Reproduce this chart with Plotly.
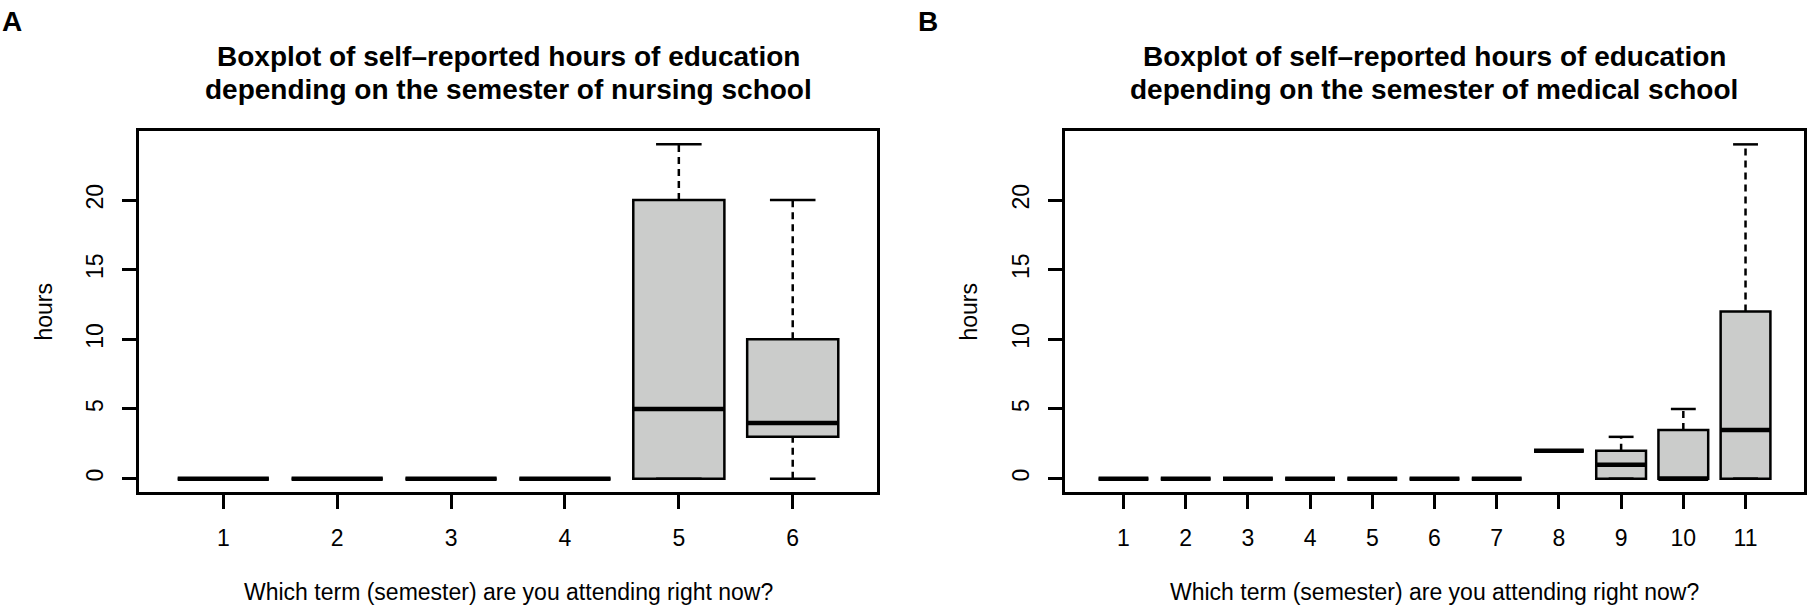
import plotly.graph_objects as go

# box statistics (min, q1, median, q3, max)
nursing_terms = [1, 2, 3, 4, 5, 6]
nursing_min = [0, 0, 0, 0, 0, 0]
nursing_q1 = [0, 0, 0, 0, 0, 3]
nursing_median = [0, 0, 0, 0, 5, 4]
nursing_q3 = [0, 0, 0, 0, 20, 10]
nursing_max = [0, 0, 0, 0, 24, 20]

medical_terms = [1, 2, 3, 4, 5, 6, 7, 8, 9, 10, 11]
medical_min = [0, 0, 0, 0, 0, 0, 0, 2, 0, 0, 0]
medical_q1 = [0, 0, 0, 0, 0, 0, 0, 2, 0, 0, 0]
medical_median = [0, 0, 0, 0, 0, 0, 0, 2, 1, 0, 3.5]
medical_q3 = [0, 0, 0, 0, 0, 0, 0, 2, 2, 3.5, 12]
medical_max = [0, 0, 0, 0, 0, 0, 0, 2, 3, 5, 24]

y_ticks = [0, 5, 10, 15, 20]

FONT = "Liberation Sans, Arial, Helvetica, sans-serif"
W, H = 1808, 612
BOX_W = 0.8
FILL = "#cbcccb"


def px(x):
    return x / W


def py(y):
    return 1 - y / H


def segs(xs, ys):
    # join line pieces with None so one trace draws them all
    out_x, out_y = [], []
    for a, b in zip(xs, ys):
        out_x += list(a) + [None]
        out_y += list(b) + [None]
    return out_x, out_y


def add_panel(fig, terms, mn, q1, med, q3, mx, xref, yref):
    fig.add_trace(go.Box(
        x=terms, q1=q1, median=med, q3=q3, lowerfence=q1, upperfence=q3,
        width=BOX_W, whiskerwidth=0, fillcolor=FILL,
        line=dict(color="black", width=2.5),
        xaxis=xref, yaxis=yref, showlegend=False, hoverinfo="skip"))

    # dashed whiskers
    wx, wy = segs([(t, t) for t in terms] * 2,
                  [(a, b) for a, b in zip(q3, mx)] + [(a, b) for a, b in zip(mn, q1)])
    fig.add_trace(go.Scatter(x=wx, y=wy, mode="lines",
                             line=dict(color="black", width=2.5, dash="7px,5px"),
                             xaxis=xref, yaxis=yref, showlegend=False, hoverinfo="skip"))

    # staples at whisker ends
    half = BOX_W / 4
    cx, cy = segs([(t - half, t + half) for t in terms] * 2,
                  [(v, v) for v in mx] + [(v, v) for v in mn])
    fig.add_trace(go.Scatter(x=cx, y=cy, mode="lines",
                             line=dict(color="black", width=2.5),
                             xaxis=xref, yaxis=yref, showlegend=False, hoverinfo="skip"))

    # thick median bars
    half = BOX_W / 2
    mxs, mys = segs([(t - half, t + half) for t in terms], [(v, v) for v in med])
    fig.add_trace(go.Scatter(x=mxs, y=mys, mode="lines",
                             line=dict(color="black", width=4.5),
                             xaxis=xref, yaxis=yref, showlegend=False, hoverinfo="skip"))


fig = go.Figure()
add_panel(fig, nursing_terms, nursing_min, nursing_q1, nursing_median,
          nursing_q3, nursing_max, "x", "y")
add_panel(fig, medical_terms, medical_min, medical_q1, medical_median,
          medical_q3, medical_max, "x2", "y2")

axis_common = dict(showgrid=False, zeroline=False, showline=True, mirror=True,
                   linecolor="black", linewidth=3, ticks="outside", ticklen=14,
                   tickwidth=2.5, tickcolor="black",
                   tickfont=dict(family=FONT, size=23, color="black"))

y_top, y_bot = 131, 492
fig.update_layout(
    width=W, height=H,
    margin=dict(l=0, r=0, t=0, b=0),
    paper_bgcolor="white", plot_bgcolor="white",
    xaxis=dict(axis_common, domain=[px(139), px(877)], range=[0.26, 6.74],
               tickvals=nursing_terms, ticklabelstandoff=9, anchor="y"),
    yaxis=dict(axis_common, domain=[py(y_bot), py(y_top)], range=[-0.96, 24.96],
               tickvals=y_ticks, tickangle=-90, ticklabelstandoff=10, anchor="x"),
    xaxis2=dict(axis_common, domain=[px(1065), px(1804)], range=[0.06, 11.94],
                tickvals=medical_terms, ticklabelstandoff=9, anchor="y2"),
    yaxis2=dict(axis_common, domain=[py(y_bot), py(y_top)], range=[-0.96, 24.96],
                tickvals=y_ticks, tickangle=-90, ticklabelstandoff=10, anchor="x2"),
)

titles = [
    (508, "Boxplot of self\u2013reported hours of education",
     "depending on the semester of nursing school", 12, "A"),
    (1434, "Boxplot of self\u2013reported hours of education",
     "depending on the semester of medical school", 928, "B"),
]
hours_x = [43, 968]
for (cx, line1, line2, lx, letter), hx in zip(titles, hours_x):
    for yy, txt in [(56, line1), (89, line2)]:
        fig.add_annotation(x=px(cx), y=py(yy), xref="paper", yref="paper",
                           text="<b>%s</b>" % txt, showarrow=False,
                           xanchor="center", yanchor="middle",
                           font=dict(family=FONT, size=28, color="black"))
    fig.add_annotation(x=px(lx), y=py(22), xref="paper", yref="paper",
                       text="<b>%s</b>" % letter, showarrow=False,
                       xanchor="center", yanchor="middle",
                       font=dict(family=FONT, size=28, color="black"))
    fig.add_annotation(x=px(cx), y=py(592), xref="paper", yref="paper",
                       text="Which term (semester) are you attending right now?",
                       showarrow=False, xanchor="center", yanchor="middle",
                       font=dict(family=FONT, size=23, color="black"))
    fig.add_annotation(x=px(hx), y=py((y_top + y_bot) / 2), xref="paper", yref="paper",
                       text="hours", textangle=-90, showarrow=False,
                       xanchor="center", yanchor="middle",
                       font=dict(family=FONT, size=23, color="black"))

# drop the browser's default body margin so the figure sits at the page corner
fig.write_html("out.html", config={"displayModeBar": False},
               post_script="document.body.style.margin='0';"
                           "document.body.style.overflow='hidden';")
